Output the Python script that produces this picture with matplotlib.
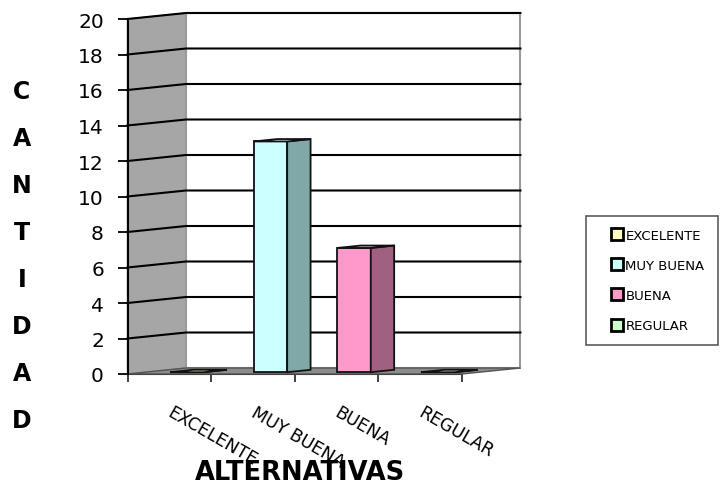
import numpy as np
import matplotlib
matplotlib.use('Agg')
import matplotlib.pyplot as plt
from matplotlib.patches import Polygon
from matplotlib.lines import Line2D

categorias = ['EXCELENTE', 'MUY BUENA', 'BUENA', 'REGULAR']
cantidad = [0, 13, 7, 0]
frente = ['#FFFFC0', '#CCFFFF', '#FF99CC', '#CCFFCC']
lado = ['#A8A878', '#80A8A8', '#A0607F', '#78A878']
arriba = ['#FFFFE0', '#E0FFFF', '#FFC0DD', '#E0FFE0']
letras = list('CANTIDAD')
yticks = np.arange(0, 21, 2)

W, H = 721, 489
fig = plt.figure(figsize=(W / 100, H / 100), dpi=100)
plt.rcParams['font.family'] = ['DejaVu Sans']

px_x = 83.6   # pixels per category
px_y = 17.75  # pixels per unit
xmax, ymax = 4.72, 20.4
ax = fig.add_axes([127.5 / W, 114 / H, xmax * px_x / W, ymax * px_y / H])
ax.set_xlim(0, xmax)
ax.set_ylim(0, ymax)
ax.patch.set_visible(False)
DX, DY = 58.5 / px_x, 6 / px_y  # depth offset in data units
n = len(categorias)

# walls and floor
ax.add_patch(Polygon([(0, 0), (DX, DY), (DX, 20 + DY), (0, 20)], closed=True,
                     fc='#A6A6A6', ec='#8A8A8A', lw=1, zorder=1, clip_on=False))
ax.add_patch(Polygon([(DX, DY), (n + DX, DY), (n + DX, 20 + DY), (DX, 20 + DY)], closed=True,
                     fc='white', ec='#9A9A9A', lw=1.5, zorder=1, clip_on=False))
ax.add_patch(Polygon([(0, 0), (DX, DY), (n + DX, DY), (n, 0)], closed=True,
                     fc='#8C8C8C', ec='#555555', lw=1, zorder=2, clip_on=False))

# gridlines on side and back wall
for t in yticks[1:]:
    ax.plot([0, DX, n + DX], [t, t + DY, t + DY], color='black', lw=1.5, zorder=3,
            clip_on=False)

# 3d columns
d0, d1 = 0.3, 0.7
for i, v in enumerate(cantidad):
    x0 = i + 0.3 + d0 * DX
    x1 = i + 0.7 + d0 * DX
    yb = d0 * DY
    ddx, ddy = (d1 - d0) * DX, (d1 - d0) * DY
    ax.add_patch(Polygon([(x0, yb), (x1, yb), (x1, v + yb), (x0, v + yb)], closed=True,
                         fc=frente[i], ec='#111111', lw=1.3, zorder=5, clip_on=False))
    ax.add_patch(Polygon([(x1, yb), (x1 + ddx, yb + ddy), (x1 + ddx, v + yb + ddy), (x1, v + yb)],
                         closed=True, fc=lado[i], ec='#111111', lw=1.3, zorder=5, clip_on=False))
    ax.add_patch(Polygon([(x0, v + yb), (x1, v + yb), (x1 + ddx, v + yb + ddy), (x0 + ddx, v + yb + ddy)],
                         closed=True, fc=arriba[i], ec='#111111', lw=1.3, zorder=6, clip_on=False))

# axes
for s in ['top', 'right']:
    ax.spines[s].set_visible(False)
ax.spines['left'].set_bounds(0, 20)
ax.spines['left'].set_linewidth(1.5)
ax.spines['left'].set_zorder(7)
ax.spines['bottom'].set_bounds(0, n)
ax.spines['bottom'].set_color('#444444')
ax.set_yticks(yticks)
ax.set_yticklabels([str(t) for t in yticks], fontsize=14.5)
ax.set_xticks(np.arange(n + 1))
ax.set_xticklabels([])
ax.tick_params(axis='y', length=7, width=1.3, pad=10)
ax.tick_params(axis='x', length=6, width=1.3, color='#333333')

for i, c in enumerate(categorias):
    ax.text(i + 0.55, -1.65, c, rotation=-30, rotation_mode='anchor', ha='left', va='top',
            fontsize=12.5, clip_on=False)

fig.text(300 / W, 1 - 473 / H, 'ALTERNATIVAS', fontsize=18.5, fontweight='bold',
         ha='center', va='center')

for k, l in enumerate(letras):
    fig.text(22 / W, 1 - (92 + 47 * k) / H, l, fontsize=17, fontweight='bold',
             ha='center', va='center')

handles = [Line2D([], [], marker='s', ls='none', markersize=8, markerfacecolor=f,
                  markeredgecolor='black', markeredgewidth=2) for f in frente]
leg = fig.legend(handles, categorias, loc='center', bbox_to_anchor=(652 / W, 1 - 281.5 / H),
                 fontsize=9.5, frameon=True, fancybox=False, edgecolor='#333333',
                 handlelength=2.6, handletextpad=-0.65, labelspacing=1.3, borderpad=1.0,
                 borderaxespad=0)
leg.get_frame().set_linewidth(1.2)

fig.savefig('out.png', dpi=100)
